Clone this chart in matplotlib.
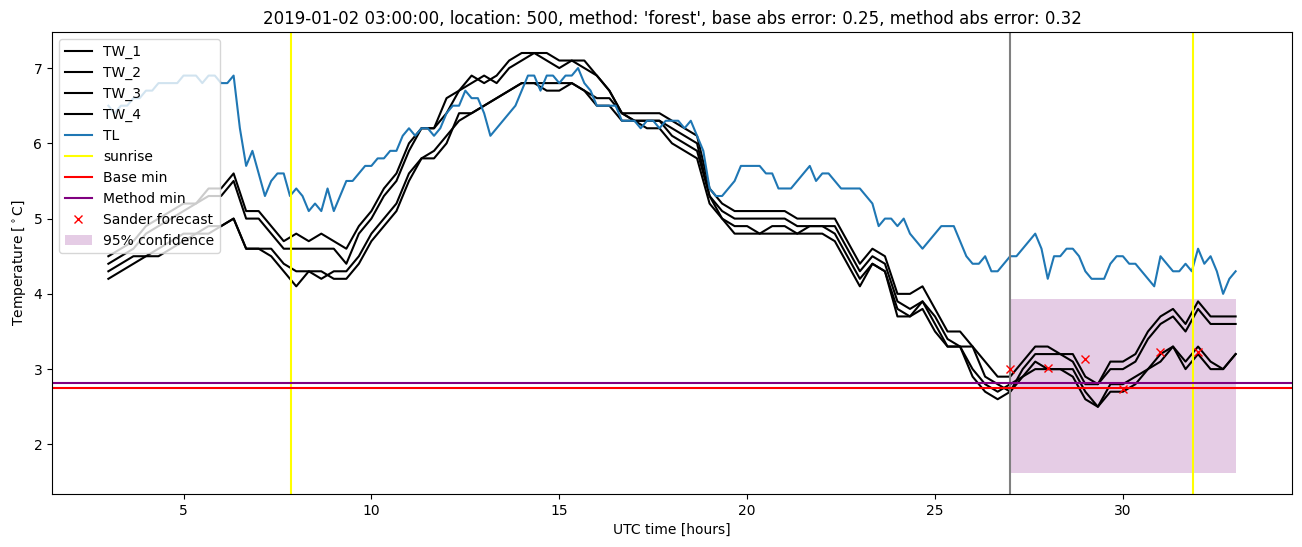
import numpy as np
import matplotlib
matplotlib.use("Agg")
import matplotlib.pyplot as plt

# ---------------- data ----------------
title = "2019-01-02 03:00:00, location: 500, method: 'forest', base abs error: 0.25, method abs error: 0.32"

# TL at 10-minute resolution, 3 h .. 33 h
tl_start, tl_step = 3.0, 1 / 6
TL = [
    6.5, 6.4, 6.5, 6.5, 6.6, 6.6,   # 3
    6.7, 6.7, 6.8, 6.8, 6.8, 6.8,   # 4
    6.9, 6.9, 6.9, 6.8, 6.9, 6.9,   # 5
    6.8, 6.8, 6.9, 6.2, 5.7, 5.9,   # 6
    5.6, 5.3, 5.5, 5.6, 5.6, 5.3,   # 7
    5.4, 5.3, 5.1, 5.2, 5.1, 5.4,   # 8
    5.1, 5.3, 5.5, 5.5, 5.6, 5.7,   # 9
    5.7, 5.8, 5.8, 5.9, 5.9, 6.1,   # 10
    6.2, 6.1, 6.2, 6.2, 6.1, 6.2,   # 11
    6.4, 6.5, 6.5, 6.7, 6.6, 6.6,   # 12
    6.4, 6.1, 6.2, 6.3, 6.4, 6.5,   # 13
    6.7, 6.9, 6.9, 6.7, 6.9, 6.9,   # 14
    6.8, 6.9, 6.9, 7.0, 6.8, 6.7,   # 15
    6.5, 6.5, 6.5, 6.5, 6.3, 6.3,   # 16
    6.3, 6.2, 6.3, 6.3, 6.2, 6.3,   # 17
    6.3, 6.3, 6.2, 6.3, 6.1, 5.9,   # 18
    5.4, 5.3, 5.3, 5.4, 5.5, 5.7,   # 19
    5.7, 5.7, 5.7, 5.6, 5.6, 5.4,   # 20
    5.4, 5.4, 5.5, 5.6, 5.7, 5.5,   # 21
    5.6, 5.6, 5.5, 5.4, 5.4, 5.4,   # 22
    5.4, 5.3, 5.2, 4.9, 5.0, 5.0,   # 23
    4.9, 5.0, 4.8, 4.7, 4.6, 4.7,   # 24
    4.8, 4.9, 4.9, 4.9, 4.7, 4.5,   # 25
    4.4, 4.4, 4.5, 4.3, 4.3, 4.4,   # 26
    4.5, 4.5, 4.6, 4.7, 4.8, 4.6,   # 27
    4.2, 4.5, 4.5, 4.6, 4.6, 4.5,   # 28
    4.3, 4.2, 4.2, 4.2, 4.4, 4.5,   # 29
    4.5, 4.4, 4.4, 4.3, 4.2, 4.1,   # 30
    4.5, 4.4, 4.3, 4.3, 4.4, 4.3,   # 31
    4.6, 4.4, 4.5, 4.3, 4.0, 4.2,   # 32
    4.3,
]

# TW sensors at 20-minute resolution, 3 h .. 33 h
tw_start, tw_step = 3.0, 1 / 3
TW_1 = [
    4.5, 4.6, 4.7,  4.9, 5.0, 5.1,  5.2, 5.2, 5.4,  5.4, 5.6, 5.1,
    5.1, 4.9, 4.7,  4.8, 4.7, 4.8,  4.7, 4.6, 4.9,  5.1, 5.4, 5.6,
    6.0, 6.2, 6.2,  6.6, 6.7, 6.9,  6.8, 6.9, 7.1,  7.2, 7.2, 7.2,
    7.1, 7.1, 7.0,  6.9, 6.7, 6.4,  6.4, 6.4, 6.4,  6.3, 6.2, 6.1,
    5.4, 5.2, 5.1,  5.1, 5.1, 5.1,  5.1, 5.0, 5.0,  5.0, 5.0, 4.7,
    4.4, 4.6, 4.5,  4.0, 4.0, 4.1,  3.8, 3.5, 3.5,  3.3, 3.1, 2.9,
    2.9, 3.1, 3.3,  3.3, 3.2, 3.2,  2.9, 2.8, 3.1,  3.1, 3.2, 3.5,
    3.7, 3.8, 3.6,  3.9, 3.7, 3.7,  3.7,
]
TW_2 = [
    4.4, 4.5, 4.6,  4.8, 4.9, 5.0,  5.1, 5.2, 5.3,  5.3, 5.5, 5.0,
    5.0, 4.8, 4.6,  4.6, 4.6, 4.6,  4.6, 4.4, 4.8,  5.0, 5.3, 5.5,
    5.9, 6.2, 6.2,  6.4, 6.7, 6.8,  6.9, 6.8, 7.0,  7.1, 7.2, 7.1,
    7.0, 7.1, 7.1,  6.9, 6.7, 6.4,  6.3, 6.3, 6.3,  6.2, 6.1, 6.0,
    5.3, 5.1, 5.0,  5.0, 5.0, 5.0,  5.0, 4.9, 4.9,  4.9, 4.9, 4.6,
    4.3, 4.5, 4.4,  3.9, 3.8, 3.9,  3.7, 3.4, 3.3,  3.3, 2.9, 2.8,
    2.7, 3.0, 3.2,  3.2, 3.2, 3.1,  2.8, 2.8, 3.0,  3.0, 3.1, 3.4,
    3.6, 3.7, 3.5,  3.8, 3.6, 3.6,  3.6,
]
TW_3 = [
    4.3, 4.4, 4.5,  4.5, 4.6, 4.7,  4.8, 4.8, 4.9,  4.9, 5.0, 4.6,
    4.6, 4.6, 4.4,  4.3, 4.3, 4.2,  4.3, 4.3, 4.5,  4.8, 5.0, 5.2,
    5.6, 5.8, 5.9,  6.1, 6.3, 6.4,  6.5, 6.6, 6.7,  6.8, 6.8, 6.8,
    6.8, 6.8, 6.7,  6.6, 6.6, 6.4,  6.3, 6.3, 6.3,  6.1, 6.0, 5.9,
    5.3, 5.0, 4.9,  4.9, 4.8, 4.9,  4.9, 4.8, 4.9,  4.9, 4.8, 4.5,
    4.2, 4.4, 4.3,  3.8, 3.7, 3.9,  3.6, 3.3, 3.3,  3.0, 2.8, 2.7,
    2.8, 2.9, 3.1,  3.0, 3.0, 3.0,  2.7, 2.5, 2.8,  2.8, 2.9, 3.0,
    3.2, 3.3, 3.1,  3.3, 3.1, 3.0,  3.2,
]
TW_4 = [
    4.2, 4.3, 4.4,  4.5, 4.5, 4.6,  4.7, 4.8, 4.8,  4.9, 5.0, 4.6,
    4.6, 4.5, 4.3,  4.1, 4.3, 4.3,  4.2, 4.2, 4.4,  4.7, 4.9, 5.1,
    5.5, 5.8, 5.8,  6.0, 6.4, 6.4,  6.5, 6.6, 6.7,  6.8, 6.8, 6.7,
    6.7, 6.8, 6.7,  6.5, 6.5, 6.3,  6.3, 6.2, 6.2,  6.0, 5.9, 5.8,
    5.2, 5.0, 4.8,  4.8, 4.8, 4.8,  4.8, 4.8, 4.8,  4.8, 4.7, 4.4,
    4.1, 4.4, 4.3,  3.7, 3.7, 3.8,  3.5, 3.3, 3.3,  2.9, 2.7, 2.6,
    2.7, 2.9, 3.0,  3.0, 3.0, 2.9,  2.6, 2.5, 2.7,  2.7, 2.8, 3.0,
    3.1, 3.3, 3.0,  3.2, 3.0, 3.0,  3.2,
]

sunrise_times = [7.87, 31.87]
forecast_start = 27.0
base_min = 2.75
method_min = 2.82
sander_x = [27, 28, 29, 30, 31, 32]
sander_y = [3.0, 3.01, 3.14, 2.74, 3.23, 3.23]
conf_x = [27.0, 33.0]
conf_low = 1.62
conf_high = 3.93

# ---------------- plot ----------------
fig = plt.figure(figsize=(13.02, 5.47), dpi=100)
ax = fig.add_axes([52 / 1302, 1 - 494 / 547, 1240 / 1302, 462 / 547])

t_tw = tw_start + tw_step * np.arange(len(TW_1))
t_tl = tl_start + tl_step * np.arange(len(TL))

for name, vals in [("TW_1", TW_1), ("TW_2", TW_2), ("TW_3", TW_3), ("TW_4", TW_4)]:
    ax.plot(t_tw, vals, color="black", label=name)
ax.plot(t_tl, TL, color="tab:blue", label="TL")

ax.axvline(sunrise_times[0], color="yellow", label="sunrise")
for s in sunrise_times[1:]:
    ax.axvline(s, color="yellow")
ax.axvline(forecast_start, color="grey")
ax.axhline(base_min, color="red", label="Base min")
ax.axhline(method_min, color="purple", label="Method min")
ax.plot(sander_x, sander_y, "rx", label="Sander forecast")
ax.fill_between(conf_x, conf_low, conf_high, color="purple", alpha=0.2,
                linewidth=0, label="95% confidence")

ax.set_xlabel("UTC time [hours]")
ax.set_ylabel(r"Temperature [$^\circ$C]")
ax.set_title(title)
ax.legend(loc="upper left")

fig.savefig("out.png", dpi=100)
